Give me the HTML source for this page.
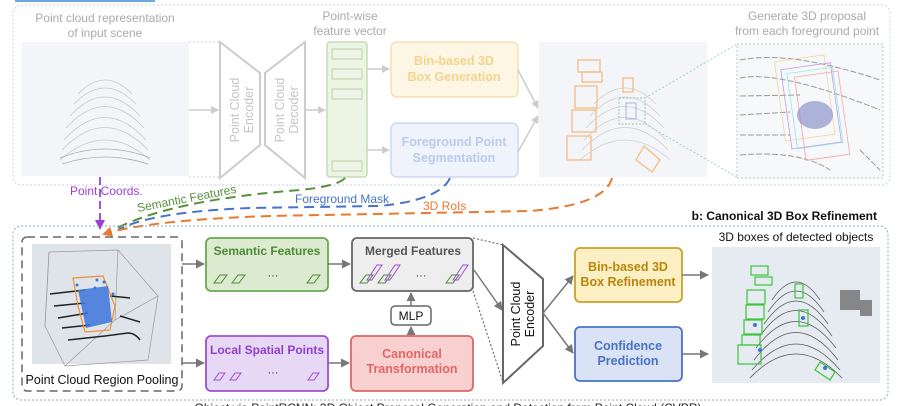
<!DOCTYPE html>
<html><head><meta charset="utf-8"><style>
html,body{margin:0;padding:0;background:#fff;width:899px;height:406px;overflow:hidden}
svg{display:block}
text{font-family:"Liberation Sans",sans-serif}
</style></head><body>
<svg width="899" height="406" viewBox="0 0 899 406" xmlns="http://www.w3.org/2000/svg">
<defs>
<marker id="ag" markerWidth="8" markerHeight="8" refX="7" refY="4" orient="auto" markerUnits="userSpaceOnUse"><path d="M0,0 L8,4 L0,8z" fill="#ccc"/></marker>
<marker id="ad" markerWidth="9" markerHeight="9" refX="8" refY="4.5" orient="auto" markerUnits="userSpaceOnUse"><path d="M0,0 L9,4.5 L0,9z" fill="#777"/></marker>
<marker id="ap" markerWidth="10" markerHeight="10" refX="8" refY="5" orient="auto" markerUnits="userSpaceOnUse"><path d="M0,0 L10,5 L0,10z" fill="#9b3fd0"/></marker>
<marker id="ao" markerWidth="10" markerHeight="10" refX="8" refY="5" orient="auto" markerUnits="userSpaceOnUse"><path d="M0,0 L10,5 L0,10z" fill="#e87a2e"/></marker>
</defs>
<rect x="15" y="0" width="140" height="2" fill="#6fa8dc"/>
<rect x="13" y="5" width="877" height="180" rx="8" fill="none" stroke="#c5d3e0" stroke-dasharray="2,2"/>
<text x="105" y="22" font-size="12" fill="#aaa" text-anchor="middle">Point cloud representation</text>
<text x="105" y="37" font-size="12" fill="#aaa" text-anchor="middle">of input scene</text>
<rect x="22" y="42" width="167" height="134" fill="#f3f5f8"/>
<g fill="none" stroke="#c8c8c8" stroke-width="0.8">
<path d="M60,160 Q105,120 150,160"/><path d="M62,150 Q105,105 148,150"/><path d="M64,140 Q105,95 146,140"/><path d="M66,128 Q105,85 144,128"/><path d="M70,116 Q105,78 140,116"/><path d="M74,104 Q105,72 136,104"/><path d="M78,94 Q105,66 132,94"/>
</g>
<g fill="none" stroke="#aaa" stroke-width="0.8"><path d="M60,158 Q105,140 150,158"/><path d="M62,164 Q105,150 148,164"/></g>
<path d="M189,42 H220 M189,177 H220" stroke="#ccc" stroke-dasharray="2,2"/>
<line x1="189" y1="110" x2="218" y2="110" stroke="#ccc" stroke-width="1.5" marker-end="url(#ag)"/>
<polygon points="220,42 260,73 260,145 220,178" fill="#fff" stroke="#ccc" stroke-width="2"/>
<polygon points="305,42 265,73 265,145 305,178" fill="#fff" stroke="#ccc" stroke-width="2"/>
<text transform="translate(239,110) rotate(-90)" font-size="12.5" fill="#c4c4c4" text-anchor="middle">Point Cloud</text>
<text transform="translate(253,110) rotate(-90)" font-size="12.5" fill="#c4c4c4" text-anchor="middle">Encoder</text>
<text transform="translate(284,110) rotate(-90)" font-size="12.5" fill="#c4c4c4" text-anchor="middle">Point Cloud</text>
<text transform="translate(298,110) rotate(-90)" font-size="12.5" fill="#c4c4c4" text-anchor="middle">Decoder</text>
<line x1="305" y1="110" x2="325" y2="110" stroke="#ccc" stroke-width="1.5" marker-end="url(#ag)"/>
<text x="350" y="20" font-size="12" fill="#aaa" text-anchor="middle">Point-wise</text>
<text x="350" y="35" font-size="12" fill="#aaa" text-anchor="middle">feature vector</text>
<rect x="327" y="42" width="40" height="135" rx="3" fill="#ecf4e4" stroke="#c5dcb3" stroke-width="1.5"/>
<g fill="#eef5e8" stroke="#b9d3a6"><rect x="332" y="49" width="30" height="10"/><rect x="332" y="69" width="30" height="10"/><rect x="332" y="89" width="30" height="10"/><rect x="332" y="161" width="30" height="10"/></g>
<line x1="367" y1="69" x2="389" y2="69" stroke="#ccc" stroke-width="1.5" marker-end="url(#ag)"/>
<line x1="367" y1="150" x2="389" y2="150" stroke="#ccc" stroke-width="1.5" marker-end="url(#ag)"/>
<rect x="391" y="42" width="127" height="55" rx="6" fill="#fdf6e4" stroke="#f3e0b2" stroke-width="1.5"/>
<text x="454" y="65" font-size="12.5" font-weight="bold" fill="#f2d48e" text-anchor="middle">Bin-based 3D</text>
<text x="454" y="81" font-size="12.5" font-weight="bold" fill="#f2d48e" text-anchor="middle">Box Generation</text>
<rect x="391" y="123" width="127" height="54" rx="6" fill="#eff3fb" stroke="#cdd8f0" stroke-width="1.5"/>
<text x="454" y="146" font-size="12.5" font-weight="bold" fill="#bccbec" text-anchor="middle">Foreground Point</text>
<text x="454" y="162" font-size="12.5" font-weight="bold" fill="#bccbec" text-anchor="middle">Segmentation</text>
<line x1="518" y1="70" x2="538" y2="108" stroke="#ccc" stroke-width="1.5" marker-end="url(#ag)"/>
<line x1="518" y1="152" x2="538" y2="116" stroke="#ccc" stroke-width="1.5" marker-end="url(#ag)"/>
<rect x="539" y="42" width="168" height="135" fill="#f3f5f8"/>
<g fill="none" stroke="#cfcfcf" stroke-width="0.8">
<path d="M580,160 Q625,120 670,160"/><path d="M582,150 Q625,105 668,150"/><path d="M584,140 Q625,95 666,140"/><path d="M586,128 Q625,85 664,128"/><path d="M590,116 Q625,78 660,116"/><path d="M594,104 Q625,72 656,104"/>
</g>
<g fill="none" stroke="#f6b77c" stroke-width="1.2">
<rect x="578" y="60" width="22" height="12"/><rect x="582" y="72" width="20" height="10"/><rect x="575" y="86" width="22" height="22"/><rect x="572" y="110" width="24" height="22"/><rect x="567" y="136" width="24" height="24"/><path d="M644,146 L660,160 L652,172 L636,160z"/><rect x="623" y="78" width="10" height="14"/>
</g>
<rect x="619" y="98" width="26" height="26" fill="none" stroke="#8cd1a7" stroke-dasharray="2,1.5"/>
<rect x="626" y="103" width="10" height="16" fill="none" stroke="#a9b4e6"/>
<path d="M645,98 L737,44 M645,124 L737,177" stroke="#9fd8b4" stroke-dasharray="2,2"/>
<text x="807" y="20" font-size="12" fill="#aaa" text-anchor="middle">Generate 3D proposal</text>
<text x="807" y="35" font-size="12" fill="#aaa" text-anchor="middle">from each foreground point</text>
<rect x="737" y="44" width="146" height="134" fill="#f7f8fa" stroke="#9fd8b4" stroke-dasharray="2,2"/>
<g fill="none" stroke="#999" stroke-width="1" stroke-dasharray="6,2">
<path d="M740,60 Q790,50 880,80"/><path d="M740,78 Q780,70 880,110"/><path d="M740,96 L800,95"/><path d="M740,115 L790,112"/><path d="M740,135 L790,135"/><path d="M740,155 Q800,150 830,170"/><path d="M860,150 L880,170"/>
</g>
<g fill="none" stroke-width="0.8"><rect x="780" y="58" width="50" height="80" stroke="#f5d49a" transform="rotate(-8 805 100)"/><rect x="786" y="66" width="50" height="80" stroke="#c29be6" transform="rotate(-8 810 105)"/><rect x="792" y="70" width="46" height="76" stroke="#8fe8ef" transform="rotate(-8 815 108)"/><rect x="800" y="74" width="44" height="84" stroke="#f2a5a5" transform="rotate(-8 820 115)"/></g>
<ellipse cx="815" cy="115" rx="18" ry="14" fill="#8d96c9" opacity="0.7"/>
<path d="M100,177 V228" stroke="#9b3fd0" stroke-width="1.8" stroke-dasharray="8,4" fill="none" marker-end="url(#ap)"/>
<text x="70" y="195" font-size="12" fill="#9b3fd0">Point Coords.</text>
<path d="M345,178 Q338,186 300,190 Q170,200 113,230" stroke="#5a8f3c" stroke-width="2" stroke-dasharray="10,6" fill="none"/>
<text x="138" y="212" font-size="12" fill="#5a8f3c" transform="rotate(-11 138 212)">Semantic Features</text>
<path d="M450,178 Q440,200 380,206 L250,208 Q150,212 118,230" stroke="#4573c9" stroke-width="2" stroke-dasharray="10,6" fill="none"/>
<text x="295" y="203" font-size="12" fill="#4573c9">Foreground Mask</text>
<path d="M612,178 Q605,205 530,211 L270,216 Q150,220 104,234" stroke="#e87a2e" stroke-width="2" stroke-dasharray="10,6" fill="none" marker-end="url(#ao)"/>
<text x="423" y="210" font-size="12" fill="#e87a2e">3D RoIs</text>
<text x="877" y="220" font-size="12" font-weight="bold" fill="#111" text-anchor="end">b: Canonical 3D Box Refinement</text>
<rect x="13" y="226" width="875" height="174" rx="8" fill="none" stroke="#8ea7c2" stroke-dasharray="2,2"/>
<rect x="22" y="237" width="160" height="154" rx="5" fill="#fff" stroke="#666" stroke-width="1.5" stroke-dasharray="8,5"/>
<rect x="32" y="244" width="139" height="120" fill="#dfe3ea"/>
<g fill="none" stroke="#999" stroke-width="0.7"><path d="M49,252 L118,250 L158,296 L148,360 L65,366 L45,326z"/><path d="M49,252 L45,326 M118,250 L115,320 L65,366 M115,320 L158,296"/></g>
<g stroke="#222" stroke-width="1.5" fill="none"><path d="M50,294 L85,290"/><path d="M54,306 L85,303"/><path d="M58,318 L88,313"/><path d="M62,328 L90,325"/><path d="M68,340 L105,336 L128,333 Q135,333 140,340"/><path d="M110,296 L130,298"/><path d="M120,316 L140,322"/></g>
<path d="M73,278 L103,276 L115,306 L110,330 L85,332 L78,306z" fill="none" stroke="#f09030" stroke-width="1.2"/>
<path d="M78,290 L108,286 L112,322 L86,328z" fill="#3d74d9" opacity="0.85"/>
<g fill="#3d74d9"><circle cx="97" cy="280" r="1.5"/><circle cx="95" cy="288" r="1.5"/><circle cx="104" cy="282" r="1.5"/><circle cx="77" cy="285" r="1.5"/><circle cx="113" cy="294" r="1.5"/></g>
<text x="102" y="384" font-size="12.5" fill="#111" text-anchor="middle">Point Cloud Region Pooling</text>
<line x1="182" y1="264" x2="204" y2="264" stroke="#777" stroke-width="1.5" marker-end="url(#ad)"/>
<line x1="182" y1="363" x2="204" y2="363" stroke="#777" stroke-width="1.5" marker-end="url(#ad)"/>
<rect x="206" y="238" width="122" height="53" rx="5" fill="#dcebd0" stroke="#6aa84f" stroke-width="1.8"/>
<text x="267" y="255" font-size="12" font-weight="bold" fill="#4e8a35" text-anchor="middle">Semantic Features</text>
<g fill="none" stroke="#4e8a35" stroke-width="1"><path d="M214,283 h7 l6,-8 h-7z M221,283 l6,-8 M214,283 l6,-8"/><path d="M232,283 h7 l6,-8 h-7z"/><path d="M307,283 h7 l6,-8 h-7z"/></g>
<text x="273" y="279" font-size="11" fill="#333" text-anchor="middle">···</text>
<line x1="328" y1="264" x2="350" y2="264" stroke="#777" stroke-width="1.5" marker-end="url(#ad)"/>
<rect x="352" y="238" width="121" height="53" rx="5" fill="#eeeeee" stroke="#666" stroke-width="1.8"/>
<text x="413" y="255" font-size="12" font-weight="bold" fill="#555" text-anchor="middle">Merged Features</text>
<g fill="none" stroke-width="1"><path d="M360,283 h7 l6,-8 h-7z M378,283 h7 l6,-8 h-7z M446,283 h7 l6,-8 h-7z" stroke="#4e8a35"/><path d="M367,280 l10,-15 h5 l-10,15z M385,280 l10,-15 h5 l-10,15z M453,280 l10,-15 h5 l-10,15z" stroke="#9c4ed6"/></g>
<text x="421" y="279" font-size="11" fill="#333" text-anchor="middle">···</text>
<rect x="391" y="306" width="40" height="19" rx="4" fill="#fff" stroke="#666" stroke-width="1.5"/>
<text x="411" y="320" font-size="12" fill="#111" text-anchor="middle">MLP</text>
<line x1="411" y1="336" x2="411" y2="327" stroke="#777" stroke-width="1.5" marker-end="url(#ad)"/>
<line x1="411" y1="306" x2="411" y2="293" stroke="#777" stroke-width="1.5" marker-end="url(#ad)"/>
<rect x="206" y="336" width="122" height="55" rx="5" fill="#e7d8f5" stroke="#9c4ed6" stroke-width="1.8"/>
<text x="267" y="354" font-size="12" font-weight="bold" fill="#8e3fce" text-anchor="middle">Local Spatial Points</text>
<g fill="none" stroke="#9c4ed6" stroke-width="1"><path d="M214,380 h6 l5,-7 h-6z"/><path d="M230,380 h6 l5,-7 h-6z"/><path d="M308,380 h6 l5,-7 h-6z"/></g>
<text x="273" y="376" font-size="11" fill="#333" text-anchor="middle">···</text>
<line x1="328" y1="363" x2="349" y2="363" stroke="#777" stroke-width="1.5" marker-end="url(#ad)"/>
<rect x="351" y="336" width="122" height="55" rx="5" fill="#f9d0d0" stroke="#e06666" stroke-width="1.8"/>
<text x="412" y="358" font-size="12.5" font-weight="bold" fill="#e06666" text-anchor="middle">Canonical</text>
<text x="412" y="373" font-size="12.5" font-weight="bold" fill="#e06666" text-anchor="middle">Transformation</text>
<path d="M473,238 L503,245 M473,291 L503,382" stroke="#555" stroke-dasharray="2,2"/>
<line x1="474" y1="270" x2="502" y2="310" stroke="#777" stroke-width="1.5" marker-end="url(#ad)"/>
<polygon points="503,245 543,279 543,346 503,383" fill="#fff" stroke="#666" stroke-width="2"/>
<text transform="translate(520,314) rotate(-90)" font-size="12.5" fill="#111" text-anchor="middle">Point Cloud</text>
<text transform="translate(534,314) rotate(-90)" font-size="12.5" fill="#111" text-anchor="middle">Encoder</text>
<line x1="543" y1="313" x2="573" y2="276" stroke="#777" stroke-width="1.5" marker-end="url(#ad)"/>
<line x1="543" y1="313" x2="573" y2="353" stroke="#777" stroke-width="1.5" marker-end="url(#ad)"/>
<rect x="575" y="248" width="107" height="54" rx="5" fill="#fdefc4" stroke="#c9a227" stroke-width="1.8"/>
<text x="628" y="271" font-size="12.5" font-weight="bold" fill="#b8860b" text-anchor="middle">Bin-based 3D</text>
<text x="628" y="286" font-size="12.5" font-weight="bold" fill="#b8860b" text-anchor="middle">Box Refinement</text>
<rect x="575" y="327" width="107" height="54" rx="5" fill="#d9e3f5" stroke="#4a72c4" stroke-width="1.8"/>
<text x="628" y="350" font-size="12.5" font-weight="bold" fill="#4a72c4" text-anchor="middle">Confidence</text>
<text x="628" y="365" font-size="12.5" font-weight="bold" fill="#4a72c4" text-anchor="middle">Prediction</text>
<line x1="682" y1="275" x2="708" y2="275" stroke="#777" stroke-width="1.5" marker-end="url(#ad)"/>
<line x1="682" y1="354" x2="708" y2="354" stroke="#777" stroke-width="1.5" marker-end="url(#ad)"/>
<text x="796" y="241" font-size="12" fill="#111" text-anchor="middle">3D boxes of detected objects</text>
<rect x="712" y="247" width="168" height="136" fill="#e6eaf1"/>
<g fill="none" stroke="#555" stroke-width="0.7">
<path d="M750,378 Q796,330 842,378"/><path d="M752,370 Q796,318 840,370"/><path d="M754,360 Q796,305 838,360"/><path d="M756,348 Q796,295 836,348"/><path d="M760,336 Q796,285 832,336"/><path d="M764,324 Q796,278 828,324"/><path d="M768,312 Q796,270 824,312"/><path d="M772,300 Q796,264 820,300"/>
</g>
<g fill="#444" opacity="0.6"><rect x="840" y="290" width="20" height="20"/><rect x="860" y="300" width="12" height="16"/></g>
<g fill="none" stroke="#3cc43c" stroke-width="1.2">
<rect x="751" y="266" width="17" height="9"/><rect x="755" y="277" width="17" height="8"/><rect x="747" y="290" width="18" height="14"/><rect x="746" y="305" width="18" height="14"/><rect x="744" y="320" width="18" height="14"/><rect x="742" y="335" width="18" height="10"/><rect x="738" y="345" width="23" height="19"/><rect x="795" y="284" width="8" height="14"/><rect x="799" y="310" width="9" height="16"/><path d="M820,362 L835,372 L830,380 L815,370z"/>
</g>
<g fill="#3d74d9"><circle cx="760" cy="350" r="2"/><circle cx="755" cy="325" r="2"/><circle cx="803" cy="318" r="2"/><circle cx="825" cy="368" r="2"/></g>
<text x="448" y="412" font-size="12" fill="#222" text-anchor="middle">Object via PointRCNN: 3D Object Proposal Generation and Detection from Point Cloud (CVPR)</text>
</svg>
</body></html>
